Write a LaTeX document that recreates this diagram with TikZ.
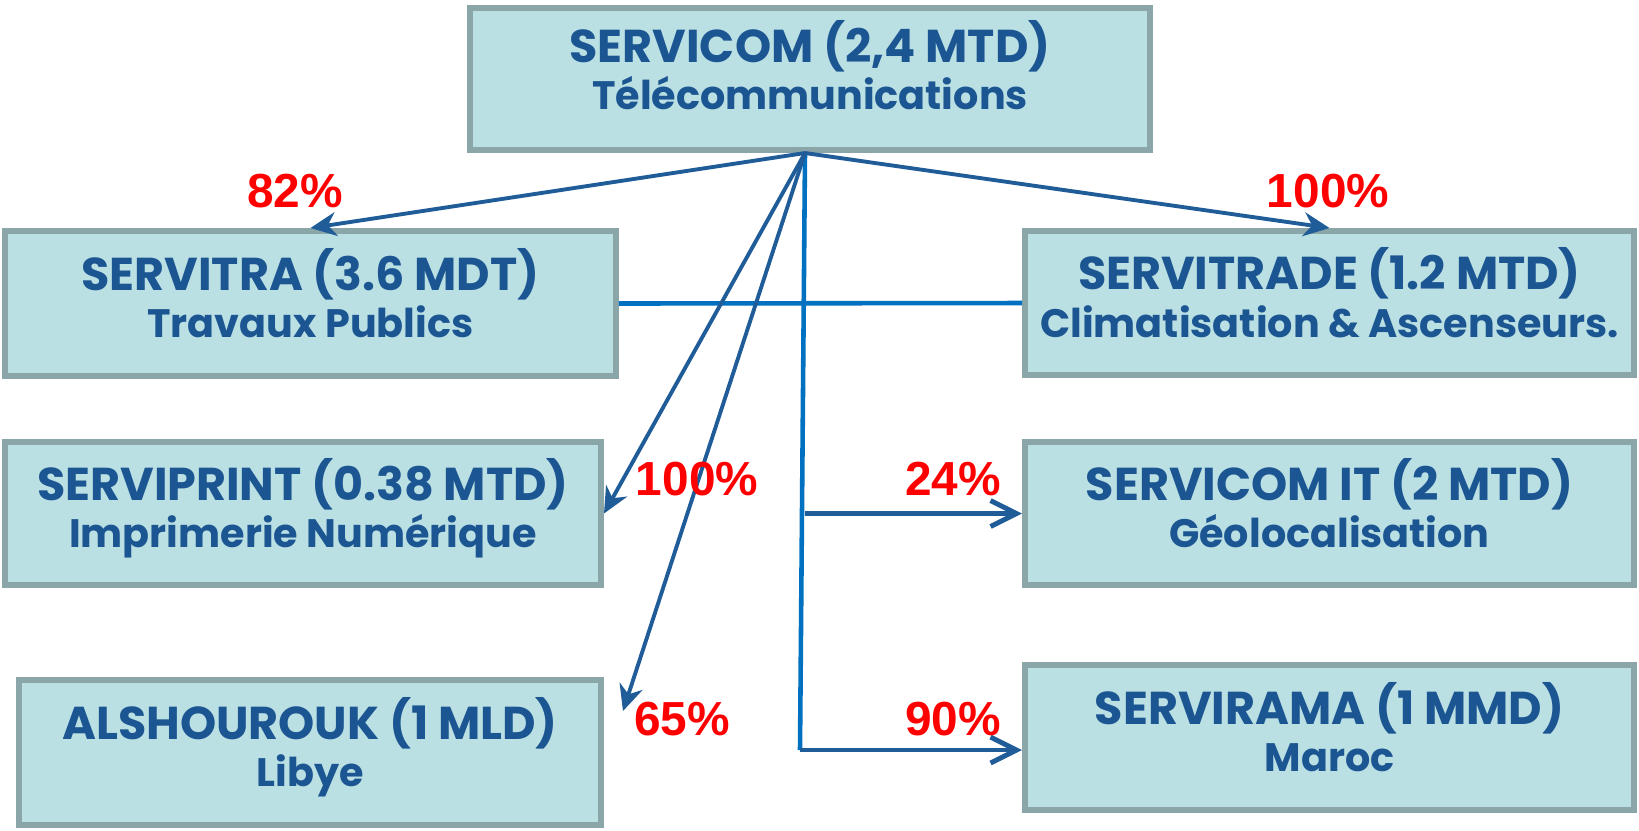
\documentclass[tikz,border=0pt]{standalone}
\usepackage{fontspec}
\usetikzlibrary{arrows.meta}
\newfontfamily\unitfont{Poppins}
\newfontfamily\pctfont{Liberation Sans}
\definecolor{boxfill}{HTML}{BBE0E3}
\definecolor{boxborder}{HTML}{8BA6A8}
\definecolor{unitblue}{HTML}{1B5592}
\definecolor{linkdark}{HTML}{205C98}
\definecolor{linkblue}{HTML}{0070C0}
\tikzset{
  unit/.style={draw=boxborder,fill=boxfill,line width=1.7pt,minimum height=1.45cm,
    inner sep=0pt,align=center,text=unitblue,text depth=6pt,
    font=\unitfont\bfseries\fontsize{11.3}{13.6}\selectfont},
  share/.style={text=red,font=\pctfont\bfseries\fontsize{13.6}{13.6}\selectfont},
  hold/.style={draw=linkdark,line width=1.1pt,-{Stealth[length=2.6mm,width=2.4mm]}},
  feed/.style={draw=linkdark,line width=1.4pt,-{Straight Barb[length=2.6mm,width=2.6mm]}},
  tie/.style={draw=linkblue,line width=1.3pt}
}
\newcommand{\unitname}[2]{{\fontsize{13.1}{13.6}\selectfont #1}\\#2}
\begin{document}
\begin{tikzpicture}
\useasboundingbox (0,0) rectangle (16.39,-8.30);
\node[unit,minimum width=6.80cm,minimum height=1.42cm,text depth=8pt] (servicom) at (8.10,-0.79) {\unitname{SERVICOM (2,4 MTD)}{Télécommunications}};
\node[unit,minimum width=6.11cm] (servitra) at (3.105,-3.035) {\unitname{SERVITRA (3.6 MDT)}{Travaux Publics}};
\node[unit,minimum width=6.09cm,minimum height=1.44cm] (servitrade) at (13.295,-3.03) {\unitname{SERVITRADE (1.2 MTD)}{Climatisation \& Ascenseurs.}};
\node[unit,minimum width=5.96cm,minimum height=1.43cm] (serviprint) at (3.03,-5.135) {\unitname{SERVIPRINT (0.38 MTD)}{Imprimerie Numérique}};
\node[unit,minimum width=6.09cm,minimum height=1.43cm] (servicomit) at (13.295,-5.135) {\unitname{SERVICOM IT (2 MTD)}{Géolocalisation}};
\node[unit,minimum width=5.82cm] (alshourouk) at (3.10,-7.525) {\unitname{ALSHOUROUK (1 MLD)}{Libye}};
\node[unit,minimum width=6.09cm] (servirama) at (13.295,-7.375) {\unitname{SERVIRAMA (1 MMD)}{Maroc}};

\coordinate (hub) at (8.05,-1.53);
\coordinate (corner) at (8.00,-7.50);

\draw[tie] (servitra.east) -- (servitrade.west);
\draw[tie] (hub) -- (corner);
\draw[feed] (hub |- servicomit.west) -- (servicomit.west);
\draw[feed] (corner) -- (corner -| servirama.west);
\draw[hold] (hub) -- (servitra.north);
\draw[hold] (hub) -- (servitrade.north);
\draw[hold] (hub) -- (serviprint.east);
\draw[hold] (hub) -- ([shift={(0.19,0.415)}]alshourouk.east);

\node[share] (p82) at (2.95,-1.91) {82\%};
\node[share] (p100a) at (13.28,-1.91) {100\%};
\node[share] (p100b) at (6.97,-4.79) {100\%};
\node[share] (p24) at (9.53,-4.79) {24\%};
\node[share] (p65) at (6.82,-7.19) {65\%};
\node[share] (p90) at (9.53,-7.19) {90\%};
\end{tikzpicture}
\end{document}
